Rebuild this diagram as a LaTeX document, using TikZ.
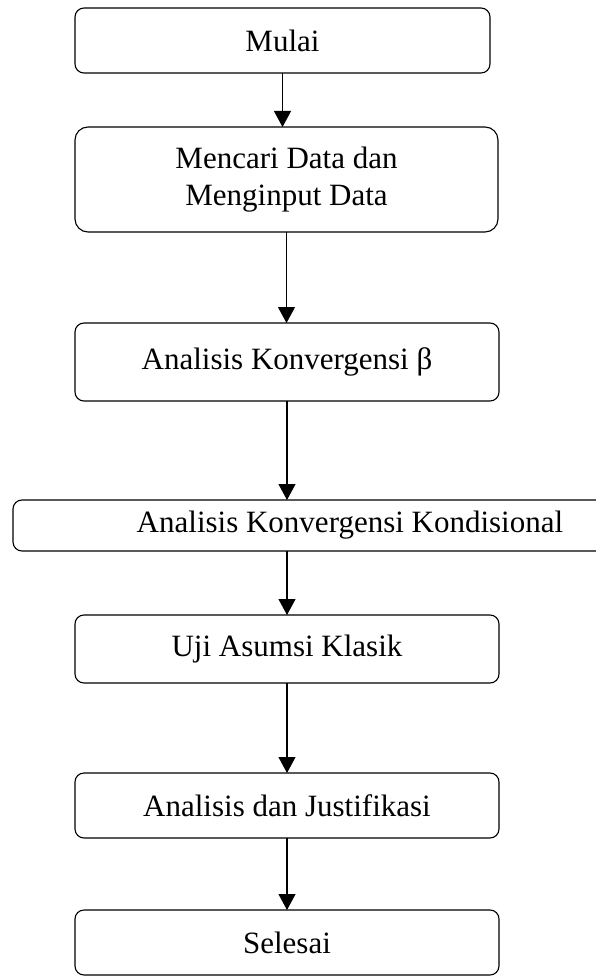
\documentclass[tikz,border=0pt]{standalone}
\usepackage{fontspec}
\setmainfont{Liberation Serif}
\usetikzlibrary{
	arrows.meta,
	positioning
}
\tikzset{
	FC-Box/.style={rectangle,line width=1.1pt,align=center,rounded corners=9pt,draw,inner sep=0pt,outer sep=0pt,
		font=\fontsize{31}{37}\selectfont},
	FC-Arrow/.style={-{Triangle[length=16pt,width=17pt]},line width=1.1pt}
}

\begin{document}
\begin{tikzpicture}[x=1pt,y=-1pt]
	% page frame
	\useasboundingbox (0,0) rectangle (595,976);
	% boxes
	\node[FC-Box,minimum width=415pt,minimum height=65pt] (mulai) at (282.5,40.5) {Mulai};
	\node[FC-Box,minimum width=423pt,minimum height=105pt,rounded corners=13pt] (mencari) at (286.5,179.5)
		{Mencari Data dan\\Menginput Data};
	\node[FC-Box,minimum width=424pt,minimum height=78pt] (beta) at (287,362) {Analisis Konvergensi β};
	\node[FC-Box,minimum width=674pt,minimum height=51pt] (kondisional) at (350,525.5)
		{Analisis Konvergensi Kondisional};
	\node[FC-Box,minimum width=424pt,minimum height=68pt] (asumsi) at (287,649) {Uji Asumsi Klasik};
	\node[FC-Box,minimum width=424pt,minimum height=65pt] (justifikasi) at (287,805.5) {Analisis dan Justifikasi};
	\node[FC-Box,minimum width=424pt,minimum height=65pt] (selesai) at (287,942.5) {Selesai};
	% arrows
	\draw[FC-Arrow] (mulai.south) -- (mulai.south |- mencari.north);
	\draw[FC-Arrow] (mencari.south) -- (mencari.south |- beta.north);
	\draw[FC-Arrow] (beta.south) -- (beta.south |- kondisional.north);
	\draw[FC-Arrow] (kondisional.south -| asumsi.north) -- (asumsi.north);
	\draw[FC-Arrow] (asumsi.south) -- (justifikasi.north);
	\draw[FC-Arrow] (justifikasi.south) -- (selesai.north);
\end{tikzpicture}
\end{document}
